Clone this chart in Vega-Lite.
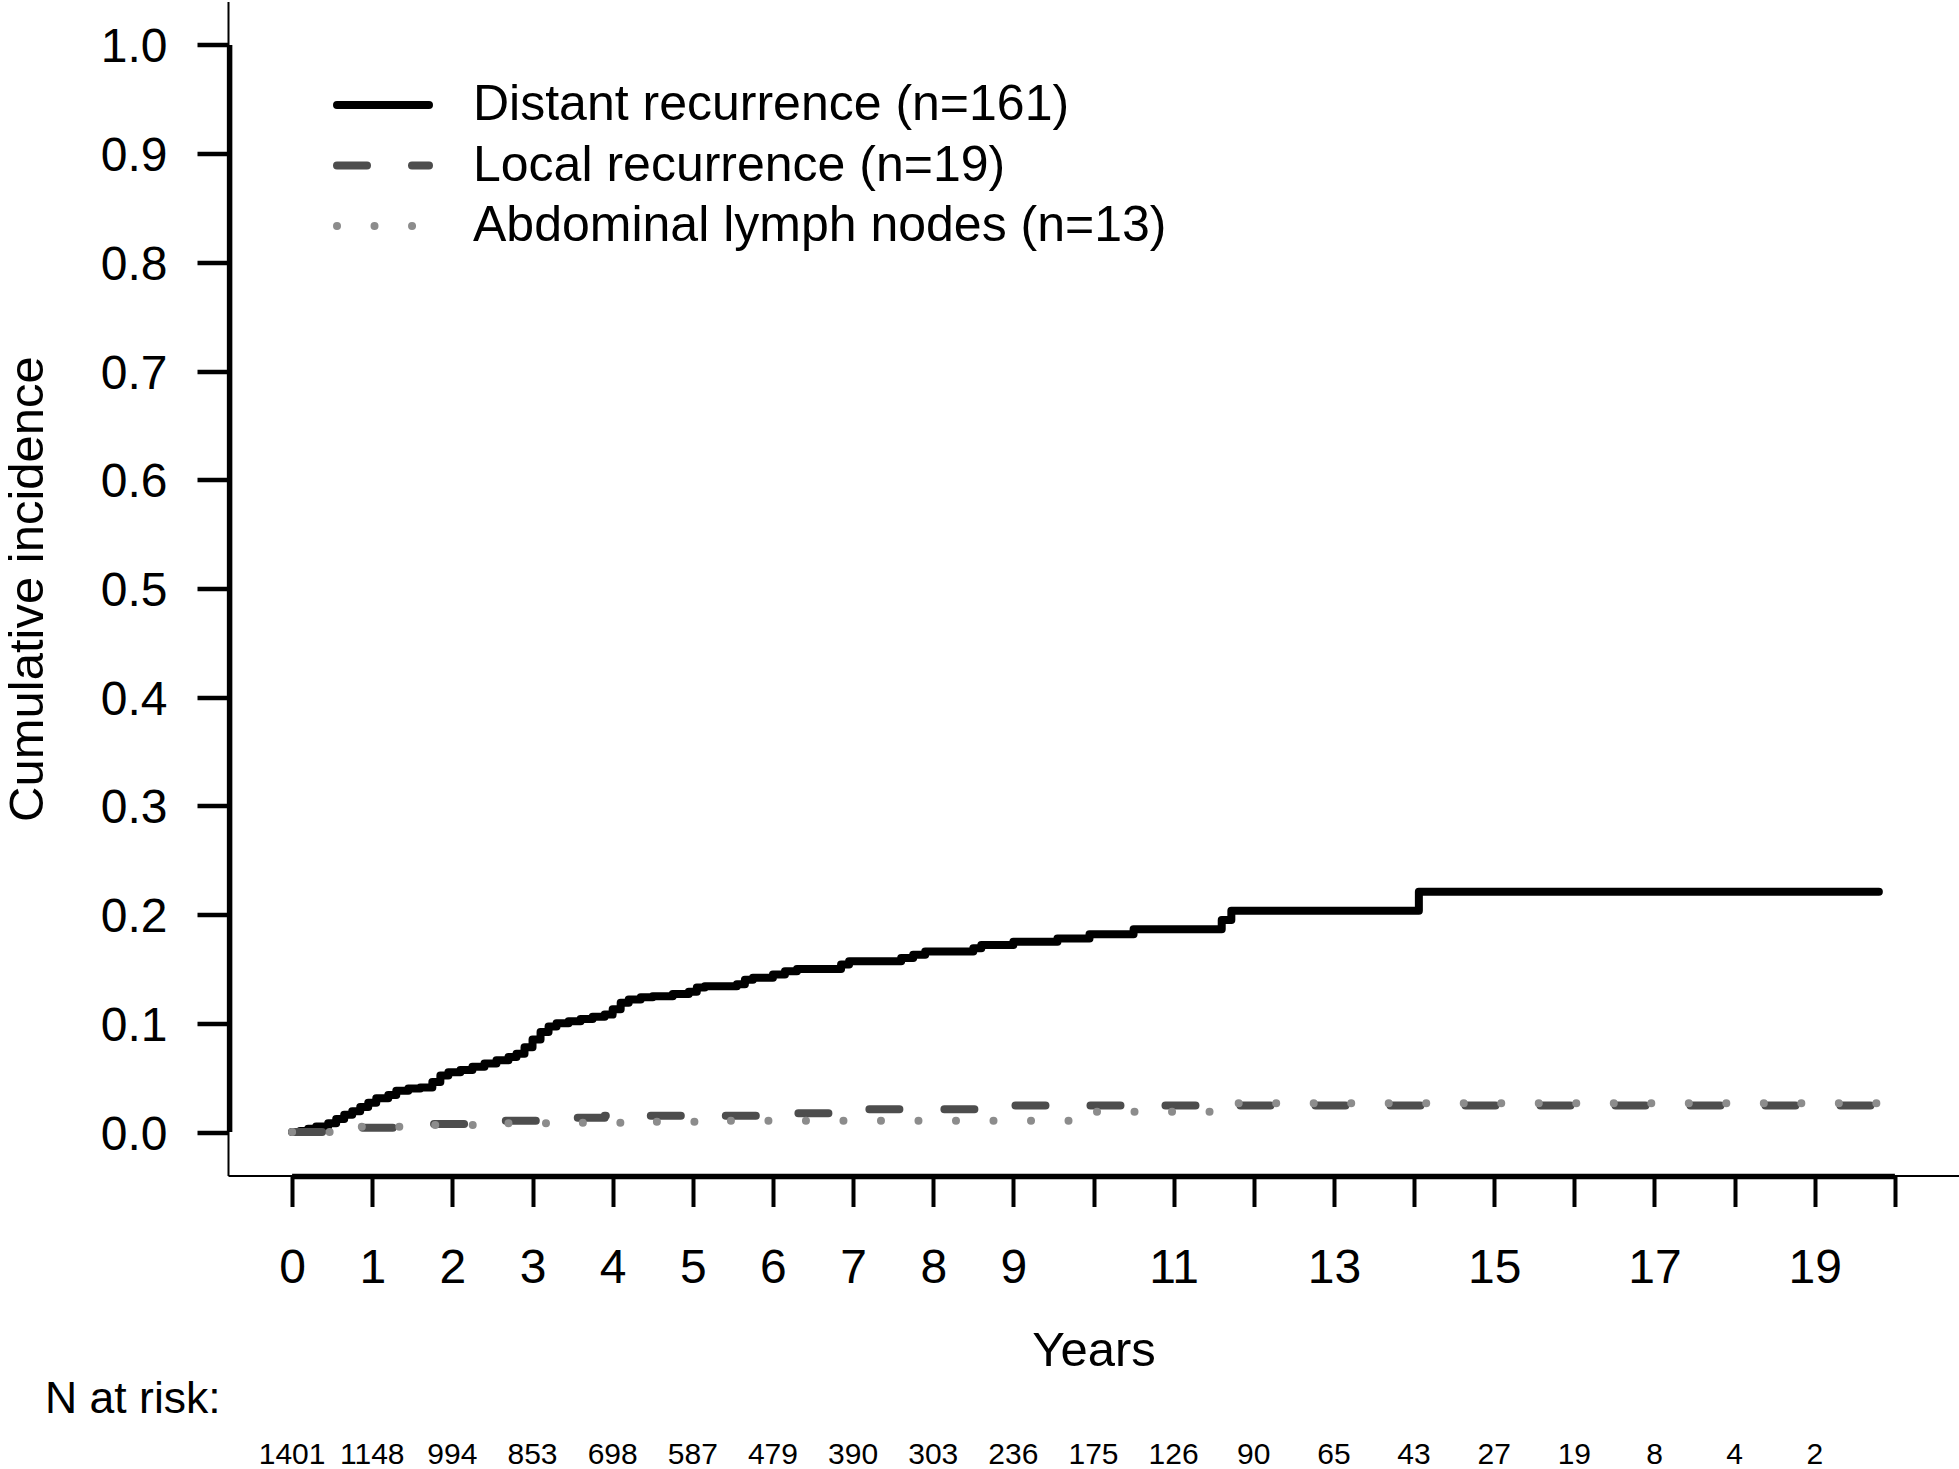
{
  "$schema": "https://vega.github.io/schema/vega-lite/v6.json",
  "width": 1731,
  "height": 1174,
  "autosize": {"type": "none"},
  "padding": {"left": 228, "top": 1.5, "right": 0, "bottom": 293.5},
  "background": "white",
  "config": {"view": {"stroke": null}, "font": "Liberation Sans"},
  "datasets": {
    "curves": [
      {"series": "Distant recurrence (n=161)", "year": 0, "value": 0},
      {"series": "Distant recurrence (n=161)", "year": 0.1, "value": 0.001},
      {"series": "Distant recurrence (n=161)", "year": 0.2, "value": 0.003},
      {"series": "Distant recurrence (n=161)", "year": 0.3, "value": 0.005},
      {"series": "Distant recurrence (n=161)", "year": 0.45, "value": 0.008},
      {"series": "Distant recurrence (n=161)", "year": 0.55, "value": 0.012},
      {"series": "Distant recurrence (n=161)", "year": 0.65, "value": 0.016},
      {"series": "Distant recurrence (n=161)", "year": 0.75, "value": 0.019},
      {"series": "Distant recurrence (n=161)", "year": 0.85, "value": 0.023},
      {"series": "Distant recurrence (n=161)", "year": 0.95, "value": 0.027},
      {"series": "Distant recurrence (n=161)", "year": 1.05, "value": 0.031},
      {"series": "Distant recurrence (n=161)", "year": 1.2, "value": 0.034},
      {"series": "Distant recurrence (n=161)", "year": 1.3, "value": 0.038},
      {"series": "Distant recurrence (n=161)", "year": 1.45, "value": 0.04},
      {"series": "Distant recurrence (n=161)", "year": 1.6, "value": 0.041},
      {"series": "Distant recurrence (n=161)", "year": 1.75, "value": 0.046},
      {"series": "Distant recurrence (n=161)", "year": 1.85, "value": 0.052},
      {"series": "Distant recurrence (n=161)", "year": 1.95, "value": 0.055},
      {"series": "Distant recurrence (n=161)", "year": 2.1, "value": 0.057},
      {"series": "Distant recurrence (n=161)", "year": 2.25, "value": 0.06},
      {"series": "Distant recurrence (n=161)", "year": 2.4, "value": 0.063},
      {"series": "Distant recurrence (n=161)", "year": 2.55, "value": 0.066},
      {"series": "Distant recurrence (n=161)", "year": 2.7, "value": 0.069},
      {"series": "Distant recurrence (n=161)", "year": 2.8, "value": 0.072},
      {"series": "Distant recurrence (n=161)", "year": 2.9, "value": 0.078},
      {"series": "Distant recurrence (n=161)", "year": 3.0, "value": 0.085},
      {"series": "Distant recurrence (n=161)", "year": 3.1, "value": 0.092},
      {"series": "Distant recurrence (n=161)", "year": 3.2, "value": 0.097},
      {"series": "Distant recurrence (n=161)", "year": 3.3, "value": 0.1},
      {"series": "Distant recurrence (n=161)", "year": 3.45, "value": 0.102},
      {"series": "Distant recurrence (n=161)", "year": 3.6, "value": 0.104},
      {"series": "Distant recurrence (n=161)", "year": 3.75, "value": 0.106},
      {"series": "Distant recurrence (n=161)", "year": 3.9, "value": 0.108},
      {"series": "Distant recurrence (n=161)", "year": 4.0, "value": 0.113},
      {"series": "Distant recurrence (n=161)", "year": 4.1, "value": 0.119},
      {"series": "Distant recurrence (n=161)", "year": 4.2, "value": 0.122},
      {"series": "Distant recurrence (n=161)", "year": 4.35, "value": 0.124},
      {"series": "Distant recurrence (n=161)", "year": 4.5, "value": 0.125},
      {"series": "Distant recurrence (n=161)", "year": 4.75, "value": 0.127},
      {"series": "Distant recurrence (n=161)", "year": 4.95, "value": 0.129},
      {"series": "Distant recurrence (n=161)", "year": 5.05, "value": 0.133},
      {"series": "Distant recurrence (n=161)", "year": 5.15, "value": 0.134},
      {"series": "Distant recurrence (n=161)", "year": 5.55, "value": 0.136},
      {"series": "Distant recurrence (n=161)", "year": 5.65, "value": 0.14},
      {"series": "Distant recurrence (n=161)", "year": 5.75, "value": 0.142},
      {"series": "Distant recurrence (n=161)", "year": 6.0, "value": 0.145},
      {"series": "Distant recurrence (n=161)", "year": 6.15, "value": 0.148},
      {"series": "Distant recurrence (n=161)", "year": 6.3, "value": 0.15},
      {"series": "Distant recurrence (n=161)", "year": 6.85, "value": 0.154},
      {"series": "Distant recurrence (n=161)", "year": 6.95, "value": 0.157},
      {"series": "Distant recurrence (n=161)", "year": 7.6, "value": 0.16},
      {"series": "Distant recurrence (n=161)", "year": 7.75, "value": 0.163},
      {"series": "Distant recurrence (n=161)", "year": 7.9, "value": 0.166},
      {"series": "Distant recurrence (n=161)", "year": 8.5, "value": 0.169},
      {"series": "Distant recurrence (n=161)", "year": 8.6, "value": 0.172},
      {"series": "Distant recurrence (n=161)", "year": 9.0, "value": 0.175},
      {"series": "Distant recurrence (n=161)", "year": 9.55, "value": 0.178},
      {"series": "Distant recurrence (n=161)", "year": 9.95, "value": 0.182},
      {"series": "Distant recurrence (n=161)", "year": 10.5, "value": 0.1865},
      {"series": "Distant recurrence (n=161)", "year": 11.6, "value": 0.195},
      {"series": "Distant recurrence (n=161)", "year": 11.72, "value": 0.2036},
      {"series": "Distant recurrence (n=161)", "year": 14.06, "value": 0.221},
      {"series": "Distant recurrence (n=161)", "year": 19.8, "value": 0.221},
      {"series": "Local recurrence (n=19)", "year": 0, "value": 0},
      {"series": "Local recurrence (n=19)", "year": 0.6, "value": 0.004},
      {"series": "Local recurrence (n=19)", "year": 1.6, "value": 0.0074},
      {"series": "Local recurrence (n=19)", "year": 2.4, "value": 0.0104},
      {"series": "Local recurrence (n=19)", "year": 3.3, "value": 0.0132},
      {"series": "Local recurrence (n=19)", "year": 3.9, "value": 0.015},
      {"series": "Local recurrence (n=19)", "year": 6.0, "value": 0.0172},
      {"series": "Local recurrence (n=19)", "year": 7.2, "value": 0.0209},
      {"series": "Local recurrence (n=19)", "year": 8.8, "value": 0.0245},
      {"series": "Local recurrence (n=19)", "year": 19.8, "value": 0.0245},
      {"series": "Abdominal lymph nodes (n=13)", "year": 0, "value": 0},
      {"series": "Abdominal lymph nodes (n=13)", "year": 0.7, "value": 0.0049},
      {"series": "Abdominal lymph nodes (n=13)", "year": 1.6, "value": 0.0064},
      {"series": "Abdominal lymph nodes (n=13)", "year": 2.5, "value": 0.008},
      {"series": "Abdominal lymph nodes (n=13)", "year": 3.4, "value": 0.0086},
      {"series": "Abdominal lymph nodes (n=13)", "year": 4.3, "value": 0.0095},
      {"series": "Abdominal lymph nodes (n=13)", "year": 5.2, "value": 0.0104},
      {"series": "Abdominal lymph nodes (n=13)", "year": 9.9, "value": 0.0187},
      {"series": "Abdominal lymph nodes (n=13)", "year": 11.65, "value": 0.0264},
      {"series": "Abdominal lymph nodes (n=13)", "year": 19.8, "value": 0.0264}
    ],
    "risk": [
      {"year": 0, "n": 1401}, {"year": 1, "n": 1148}, {"year": 2, "n": 994}, {"year": 3, "n": 853},
      {"year": 4, "n": 698}, {"year": 5, "n": 587}, {"year": 6, "n": 479}, {"year": 7, "n": 390},
      {"year": 8, "n": 303}, {"year": 9, "n": 236}, {"year": 10, "n": 175}, {"year": 11, "n": 126},
      {"year": 12, "n": 90}, {"year": 13, "n": 65}, {"year": 14, "n": 43}, {"year": 15, "n": 27},
      {"year": 16, "n": 19}, {"year": 17, "n": 8}, {"year": 18, "n": 4}, {"year": 19, "n": 2}
    ]
  },
  "layer": [
    {
      "data": {"name": "curves"},
      "transform": [{"filter": "datum.series == 'Distant recurrence (n=161)'"}],
      "mark": {"type": "line", "interpolate": "step-after", "strokeWidth": 8, "strokeCap": "round", "strokeJoin": "round"},
      "encoding": {
        "x": {
          "field": "year", "type": "quantitative",
          "scale": {"domain": [-0.8, 20.8], "nice": false, "zero": false},
          "axis": {
            "values": [0,1,2,3,4,5,6,7,8,9,10,11,12,13,14,15,16,17,18,19,20],
            "format": "d",
            "labelExpr": "(datum.value < 10 || datum.value % 2 == 1) && datum.value < 20 ? datum.label : ''",
            "labelFont": "Liberation Sans", "labelFontSize": 48, "labelColor": "black",
            "labelBaseline": "alphabetic", "labelPadding": 76, "labelFlush": false, "labelOverlap": false,
            "tickSize": 31, "tickWidth": 4, "tickColor": "black",
            "domainColor": "black", "domainWidth": 2, "grid": false,
            "title": "Years", "titleFont": "Liberation Sans", "titleFontSize": 49, "titleFontWeight": "normal",
            "titleColor": "black", "titleX": 865.5, "titleY": 189.5, "titleBaseline": "alphabetic", "titleAlign": "center"
          }
        },
        "y": {
          "field": "value", "type": "quantitative",
          "scale": {"domain": [-0.04, 1.04], "nice": false, "zero": false},
          "axis": {
            "values": [0,0.1,0.2,0.3,0.4,0.5,0.6,0.7,0.8,0.9,1.0],
            "format": ".1f",
            "labelFont": "Liberation Sans", "labelFontSize": 48, "labelColor": "black",
            "labelBaseline": "alphabetic", "labelOffset": 17, "labelPadding": 30, "labelFlush": false, "labelOverlap": false,
            "tickSize": 31, "tickWidth": 4.5, "tickColor": "black",
            "domainColor": "black", "domainWidth": 2, "grid": false,
            "title": "Cumulative incidence", "titleFont": "Liberation Sans", "titleFontSize": 49, "titleFontWeight": "normal",
            "titleColor": "black", "titleX": -186, "titleY": 587, "titleAngle": 270, "titleBaseline": "alphabetic", "titleAlign": "center"
          }
        },
        "color": {
          "field": "series", "type": "nominal",
          "scale": {"domain": ["Distant recurrence (n=161)", "Local recurrence (n=19)", "Abdominal lymph nodes (n=13)"], "range": ["#000000", "#4d4d4d", "#8c8c8c"]},
          "legend": {"orient": "none", "legendX": 105, "legendY": 78.5, "title": null, "symbolType": "stroke", "symbolSize": 8464, "symbolStrokeWidth": 8,
            "labelFont": "Liberation Sans", "labelFontSize": 50, "labelColor": "black", "labelLimit": 0, "labelOffset": 40, "clipHeight": 50, "rowPadding": 10.5, "padding": 0, "offset": 0,
            "encode": {"symbols": {"update": {"strokeCap": {"value": "round"}}}}}
        },
        "strokeDash": {
          "field": "series", "type": "nominal",
          "scale": {"domain": ["Distant recurrence (n=161)", "Local recurrence (n=19)", "Abdominal lymph nodes (n=13)"], "range": [[1, 0], [30, 45], [0.01, 37.5]]},
          "legend": {"orient": "none", "legendX": 105, "legendY": 78.5, "title": null, "symbolType": "stroke", "symbolSize": 8464, "symbolStrokeWidth": 8,
            "labelFont": "Liberation Sans", "labelFontSize": 50, "labelColor": "black", "labelLimit": 0, "labelOffset": 40, "clipHeight": 50, "rowPadding": 10.5, "padding": 0, "offset": 0,
            "encode": {"symbols": {"update": {"strokeCap": {"value": "round"}}}}}
        }
      }
    },
    {
      "data": {"name": "curves"},
      "transform": [{"filter": "datum.series == 'Local recurrence (n=19)'"}],
      "mark": {"type": "line", "interpolate": "step-after", "strokeWidth": 8, "strokeCap": "round", "strokeJoin": "round"},
      "encoding": {
        "x": {"field": "year", "type": "quantitative"},
        "y": {"field": "value", "type": "quantitative"},
        "color": {"field": "series", "type": "nominal"},
        "strokeDash": {"field": "series", "type": "nominal"}
      }
    },
    {
      "data": {"name": "curves"},
      "transform": [{"filter": "datum.series == 'Abdominal lymph nodes (n=13)'"}],
      "mark": {"type": "line", "interpolate": "step-after", "strokeWidth": 8, "strokeCap": "round", "strokeJoin": "round"},
      "encoding": {
        "x": {"field": "year", "type": "quantitative"},
        "y": {"field": "value", "type": "quantitative"},
        "color": {"field": "series", "type": "nominal"},
        "strokeDash": {"field": "series", "type": "nominal"}
      }
    },
    {
      "data": {"values": [{}]},
      "mark": {"type": "rule", "color": "black", "strokeWidth": 5.5},
      "encoding": {"x": {"datum": -0.78}, "y": {"datum": 0}, "y2": {"datum": 1}}
    },
    {
      "data": {"values": [{}]},
      "mark": {"type": "rule", "color": "black", "strokeWidth": 5.5, "strokeCap": "butt"},
      "encoding": {"y": {"datum": -0.041}, "x": {"datum": 0}, "x2": {"datum": 20}}
    },
    {
      "data": {"name": "risk"},
      "mark": {"type": "text", "font": "Liberation Sans", "fontSize": 30, "baseline": "alphabetic", "align": "center", "color": "black"},
      "encoding": {"x": {"field": "year", "type": "quantitative"}, "y": {"datum": -0.305}, "text": {"field": "n", "type": "quantitative"}}
    },
    {
      "data": {"values": [{"label": "N at risk:"}]},
      "mark": {"type": "text", "font": "Liberation Sans", "fontSize": 44.5, "baseline": "alphabetic", "align": "left", "color": "black"},
      "encoding": {"x": {"datum": -3.082}, "y": {"datum": -0.2585}, "text": {"field": "label", "type": "nominal"}}
    }
  ]
}
